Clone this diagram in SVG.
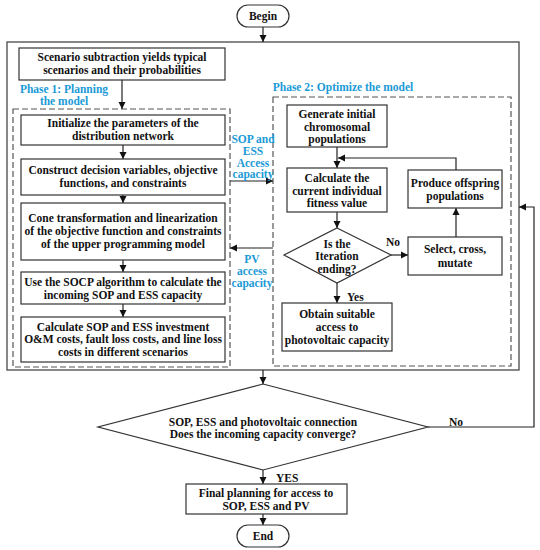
<svg xmlns="http://www.w3.org/2000/svg" width="540" height="550" viewBox="0 0 540 550">
<style>
.t{font-family:"Liberation Serif",serif;font-weight:bold;font-size:11.5px;fill:#111;text-anchor:middle}
.s{font-family:"Liberation Serif",serif;font-weight:bold;font-size:11.5px;fill:#111;text-anchor:start}
.b{font-family:"Liberation Serif",serif;font-weight:bold;font-size:11.5px;fill:#1b9ad6;text-anchor:middle}
.box{fill:#fff;stroke:#333;stroke-width:1.2}
.dash{fill:none;stroke:#555;stroke-width:1.2;stroke-dasharray:6,3}
.ln{fill:none;stroke:#222;stroke-width:1.2}
</style>
<defs>
<marker id="ar" markerWidth="8" markerHeight="8" refX="7" refY="4" orient="auto" markerUnits="userSpaceOnUse">
<path d="M0,0.5 L7,4 L0,7.5 Z" fill="#111"/>
</marker>
</defs>
<rect width="540" height="550" fill="#fff"/>
<rect id="outer" x="7" y="42" width="512" height="328" fill="none" stroke="#555" stroke-width="1.4"/>
<g id="phase1">
<rect class="dash" x="13" y="109" width="217" height="258"/>
<text class="b" x="64" y="93">Phase 1: Planning</text>
<text class="b" x="64" y="105">the model</text>
</g>
<g id="phase2">
<rect class="dash" x="273" y="97" width="238" height="269"/>
<text class="b" x="343" y="91">Phase 2: Optimize the model</text>
</g>
<g id="connectors">
<line class="ln" x1="263" y1="27" x2="263" y2="42" marker-end="url(#ar)"/>
<line class="ln" x1="122" y1="80" x2="122" y2="109" marker-end="url(#ar)"/>
<line class="ln" x1="123" y1="145" x2="123" y2="159" marker-end="url(#ar)"/>
<line class="ln" x1="123" y1="195" x2="123" y2="203" marker-end="url(#ar)"/>
<line class="ln" x1="123" y1="260" x2="123" y2="272" marker-end="url(#ar)"/>
<line class="ln" x1="123" y1="304" x2="123" y2="317" marker-end="url(#ar)"/>
<line class="ln" x1="230" y1="181" x2="273" y2="181" marker-end="url(#ar)"/>
<line class="ln" x1="273" y1="248" x2="230" y2="248" marker-end="url(#ar)"/>
<line class="ln" x1="337" y1="147" x2="337" y2="168" marker-end="url(#ar)"/>
<polyline class="ln" points="456,170 456,158 338,158" marker-end="url(#ar)"/>
<line class="ln" x1="337" y1="212" x2="337" y2="228" marker-end="url(#ar)"/>
<line class="ln" x1="391" y1="255" x2="408" y2="255" marker-end="url(#ar)"/>
<line class="ln" x1="456" y1="237" x2="456" y2="208" marker-end="url(#ar)"/>
<line class="ln" x1="337" y1="283" x2="337" y2="303" marker-end="url(#ar)"/>
<line class="ln" x1="263" y1="370" x2="263" y2="384" marker-end="url(#ar)"/>
<polyline class="ln" points="428,427 534,427 534,207 519,207" marker-end="url(#ar)"/>
<line class="ln" x1="263" y1="470" x2="263" y2="484" marker-end="url(#ar)"/>
<line class="ln" x1="263" y1="514" x2="263" y2="525" marker-end="url(#ar)"/>
<text class="b" x="253" y="143">SOP and</text>
<text class="b" x="253" y="155">ESS</text>
<text class="b" x="253" y="167">Access</text>
<text class="b" x="253" y="178">capacity</text>
<text class="b" x="252" y="263">PV</text>
<text class="b" x="252" y="275">access</text>
<text class="b" x="252" y="287">capacity</text>
<text class="s" x="386" y="246">No</text>
<text class="s" x="347" y="301">Yes</text>
<text class="s" x="449" y="426">No</text>
<text class="s" x="276" y="482">YES</text>
</g>
<g id="begin">
<rect class="box" x="237" y="5" width="52" height="22" rx="11"/>
<text class="t" x="263" y="20">Begin</text>
</g>
<g id="scenario">
<rect class="box" x="19" y="48" width="206" height="32"/>
<text class="t" x="122" y="61">Scenario subtraction yields typical</text>
<text class="t" x="122" y="74">scenarios and their probabilities</text>
</g>
<g id="init">
<rect class="box" x="21" y="115" width="204" height="30"/>
<text class="t" x="123" y="127">Initialize the parameters of the</text>
<text class="t" x="123" y="140">distribution network</text>
</g>
<g id="construct">
<rect class="box" x="21" y="159" width="204" height="36"/>
<text class="t" x="123" y="174">Construct decision variables, objective</text>
<text class="t" x="123" y="187">functions, and constraints</text>
</g>
<g id="cone">
<rect class="box" x="21" y="203" width="204" height="57"/>
<text class="t" x="123" y="222">Cone transformation and linearization</text>
<text class="t" x="123" y="235">of the objective function and constraints</text>
<text class="t" x="123" y="248">of the upper programming model</text>
</g>
<g id="socp">
<rect class="box" x="21" y="272" width="204" height="32"/>
<text class="t" x="123" y="286">Use the SOCP algorithm to calculate the</text>
<text class="t" x="123" y="299">incoming SOP and ESS capacity</text>
</g>
<g id="costs">
<rect class="box" x="21" y="317" width="204" height="45"/>
<text class="t" x="123" y="331">Calculate SOP and ESS investment</text>
<text class="t" x="123" y="343">O&amp;M costs, fault loss costs, and line loss</text>
<text class="t" x="123" y="356">costs in different scenarios</text>
</g>
<g id="generate">
<rect class="box" x="287" y="105" width="100" height="42"/>
<text class="t" x="337" y="118">Generate initial</text>
<text class="t" x="337" y="131">chromosomal</text>
<text class="t" x="337" y="143">populations</text>
</g>
<g id="calc">
<rect class="box" x="287" y="168" width="100" height="44"/>
<text class="t" x="337" y="182">Calculate the</text>
<text class="t" x="337" y="195">current individual</text>
<text class="t" x="337" y="207">fitness value</text>
</g>
<g id="iter">
<polygon class="box" points="337,228 391,255 337,283 284,255"/>
<text class="t" x="337" y="248">Is the</text>
<text class="t" x="337" y="260">Iteration</text>
<text class="t" x="337" y="273">ending?</text>
</g>
<g id="produce">
<rect class="box" x="408" y="170" width="94" height="38"/>
<text class="t" x="455" y="187">Produce offspring</text>
<text class="t" x="455" y="200">populations</text>
</g>
<g id="select">
<rect class="box" x="408" y="237" width="94" height="38"/>
<text class="t" x="455" y="253">Select, cross,</text>
<text class="t" x="455" y="267">mutate</text>
</g>
<g id="obtain">
<rect class="box" x="282" y="303" width="110" height="48"/>
<text class="t" x="337" y="318">Obtain suitable</text>
<text class="t" x="337" y="331">access to</text>
<text class="t" x="337" y="344">photovoltaic capacity</text>
</g>
<g id="converge">
<polygon class="box" points="263,384 428,427 263,470 98,427"/>
<text class="t" x="263" y="426">SOP, ESS and photovoltaic connection</text>
<text class="t" x="263" y="438">Does the incoming capacity converge?</text>
</g>
<g id="final">
<rect class="box" x="186" y="484" width="161" height="30"/>
<text class="t" x="266" y="497">Final planning for access to</text>
<text class="t" x="266" y="510">SOP, ESS and PV</text>
</g>
<g id="end">
<rect class="box" x="237" y="525" width="52" height="22" rx="11"/>
<text class="t" x="263" y="540">End</text>
</g>
</svg>
